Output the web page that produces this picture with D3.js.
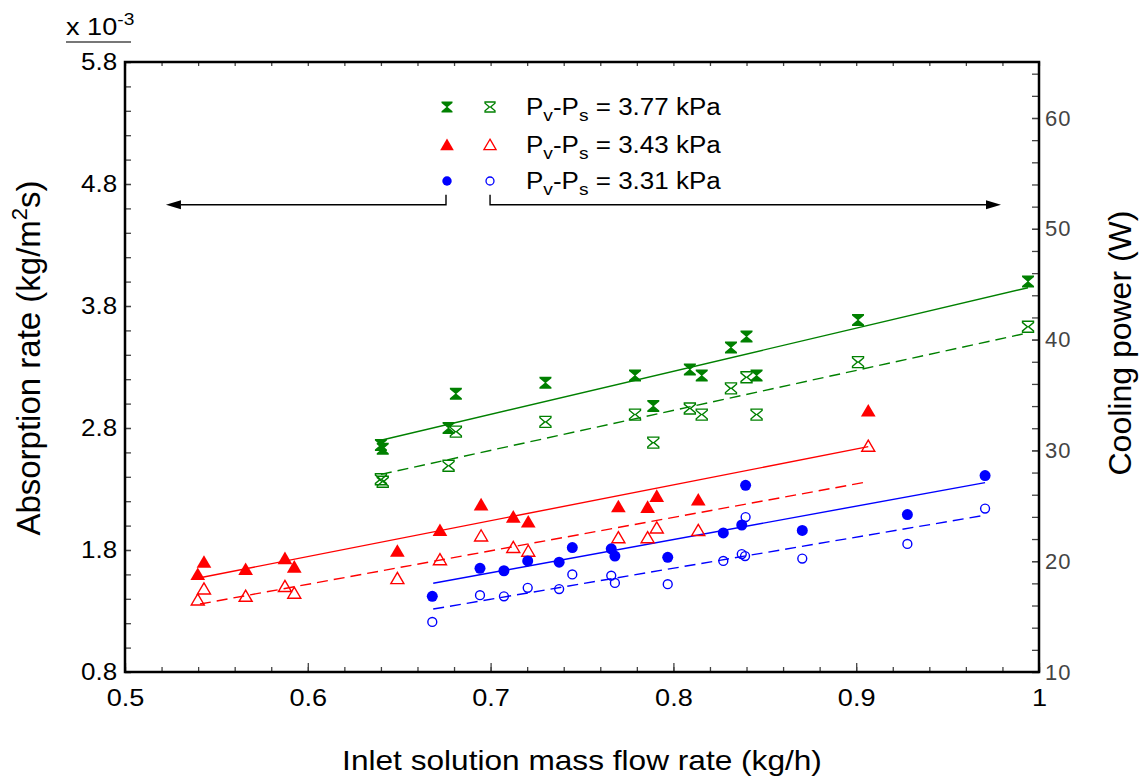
<!DOCTYPE html>
<html>
<head>
<meta charset="utf-8">
<script src="https://cdn.jsdelivr.net/npm/d3@7"></script>
<style>
  html, body { margin: 0; padding: 0; background: #fff; }
  svg { display: block; }
  text { font-family: "Liberation Sans", Arial, sans-serif; }
</style>
</head>
<body>
<div id="chart"></div>
<script>
// ---- data (absorption rate in 1e-3 kg/m2s vs inlet flow kg/h) ----
const xTicks = [0.5, 0.6, 0.7, 0.8, 0.9, 1];
const yTicks = [0.8, 1.8, 2.8, 3.8, 4.8, 5.8];
const rTicks = [10, 20, 30, 40, 50, 60];

const g377FilledX = [0.640, 0.641, 0.677, 0.681, 0.730, 0.779, 0.789, 0.809, 0.8155, 0.8315, 0.840, 0.8455, 0.901, 0.994];
const g377FilledY = [2.66, 2.63, 2.80, 3.08, 3.17, 3.23, 2.98, 3.28, 3.23, 3.46, 3.55, 3.23, 3.685, 4.00];
const g377OpenX   = [0.640, 0.641, 0.677, 0.681, 0.730, 0.779, 0.789, 0.809, 0.8155, 0.8315, 0.840, 0.8455, 0.901, 0.994];
const g377OpenY   = [2.38, 2.36, 2.49, 2.77, 2.85, 2.91, 2.68, 2.96, 2.91, 3.125, 3.216, 2.91, 3.34, 3.63];

const r343FilledX = [0.5398, 0.5432, 0.566, 0.5875, 0.5926, 0.649, 0.6723, 0.6948, 0.7124, 0.7206, 0.7699, 0.7859, 0.7909, 0.8136, 0.9066];
const r343FilledY = [1.60, 1.70, 1.64, 1.73, 1.66, 1.79, 1.96, 2.17, 2.07, 2.03, 2.155, 2.15, 2.24, 2.21, 2.94];
const r343OpenX   = [0.5398, 0.5432, 0.566, 0.5875, 0.5926, 0.649, 0.6723, 0.6948, 0.7124, 0.7206, 0.7699, 0.7859, 0.7909, 0.8136, 0.9066];
const r343OpenY   = [1.39, 1.48, 1.42, 1.50, 1.445, 1.565, 1.72, 1.915, 1.82, 1.79, 1.90, 1.90, 1.98, 1.96, 2.65];

const b331FilledX = [0.6681, 0.6942, 0.7073, 0.7203, 0.7375, 0.7447, 0.766, 0.768, 0.7969, 0.8273, 0.8374, 0.8395, 0.8705, 0.928, 0.9705];
const b331FilledY = [1.42, 1.65, 1.63, 1.71, 1.70, 1.82, 1.81, 1.75, 1.74, 1.94, 2.005, 2.33, 1.96, 2.09, 2.41];
const b331OpenX   = [0.6681, 0.6942, 0.7073, 0.7203, 0.7375, 0.7447, 0.766, 0.768, 0.7969, 0.8273, 0.8374, 0.8392, 0.8395, 0.8705, 0.928, 0.9705];
const b331OpenY   = [1.21, 1.43, 1.42, 1.49, 1.48, 1.60, 1.59, 1.53, 1.52, 1.71, 1.767, 1.75, 2.07, 1.73, 1.85, 2.14];

// fitted lines, end points
const fitG377Solid  = [[0.640, 2.70], [0.994, 3.95]];
const fitG377Dashed = [[0.640, 2.42], [0.994, 3.58]];
const fitR343Solid  = [[0.541, 1.573], [0.9066, 2.647]];
const fitR343Dashed = [[0.541, 1.357], [0.9066, 2.36]];
const fitB331Solid  = [[0.6686, 1.527], [0.9705, 2.352]];
const fitB331Dashed = [[0.6686, 1.316], [0.9705, 2.085]];

const legendLabels = ['3.77', '3.43', '3.31'];

// arrows: y level and x extents, data units
const arrowY = 4.63;
const arrowLeft = [0.5224, 0.6756];
const arrowRight = [0.6997, 0.9792];

const GREEN = '#008000', RED = '#ff0000', BLUE = '#0000ff';
const STRETCH = 1.13;   // text in the original is a bit wide

const W = 1146, H = 778;
const M = { left: 125, right: 1039, top: 62, bottom: 672 };

const svg = d3.select('#chart').append('svg')
  .attr('width', W).attr('height', H);

const x  = d3.scaleLinear([0.5, 1], [M.left, M.right]);
const y  = d3.scaleLinear([0.8, 5.8], [M.bottom, M.top]);
const yR = d3.scaleLinear([10, 10 + (M.bottom - M.top) / 11.08], [M.bottom, M.top]);

// ---- axes ----
const minorX = d3.range(0.5, 1.0001, 0.02).map(v => +v.toFixed(2));
const minorY = d3.range(0.8, 5.8001, 0.2).map(v => +v.toFixed(1));
const minorR = d3.range(10, 65, 2);

function styleTicks(g) {
  g.select('.domain').remove();
  g.selectAll('line').attr('stroke', '#444').attr('stroke-width', 1.3);
}

svg.append('g').attr('transform', `translate(0,${M.bottom})`)
  .call(d3.axisBottom(x).tickValues(minorX).tickSize(-5).tickFormat(''))
  .call(styleTicks);
svg.append('g').attr('transform', `translate(0,${M.bottom})`)
  .call(d3.axisBottom(x).tickValues(xTicks).tickSize(-9).tickPadding(17).tickFormat(d3.format('')))
  .call(styleTicks)
  .call(g => g.selectAll('text').attr('font-size', 24).attr('fill', '#000')
    .attr('transform', `scale(${STRETCH},1)`)
    .attr('font-family', '"Liberation Sans", Arial, sans-serif'));

svg.append('g').attr('transform', `translate(0,${M.top})`)
  .call(d3.axisTop(x).tickValues(minorX).tickSize(-4).tickFormat(''))
  .call(styleTicks);

svg.append('g').attr('transform', `translate(${M.left},0)`)
  .call(d3.axisLeft(y).tickValues(minorY).tickSize(-6).tickFormat(''))
  .call(styleTicks);
svg.append('g').attr('transform', `translate(${M.left},0)`)
  .call(d3.axisLeft(y).tickValues(yTicks).tickSize(-6).tickPadding(7).tickFormat(d3.format('.1f')))
  .call(styleTicks)
  .call(g => g.selectAll('text').attr('font-size', 23).attr('fill', '#000')
    .attr('transform', `scale(${STRETCH},1)`)
    .attr('font-family', '"Liberation Sans", Arial, sans-serif'));

svg.append('g').attr('transform', `translate(${M.right},0)`)
  .call(d3.axisRight(yR).tickValues(minorR).tickSize(-7).tickFormat(''))
  .call(styleTicks);
svg.append('g').attr('transform', `translate(${M.right},0)`)
  .call(d3.axisRight(yR).tickValues(rTicks).tickSize(-7).tickPadding(6).tickFormat(d3.format('d')))
  .call(styleTicks)
  .call(g => g.selectAll('text').attr('font-size', 22).attr('fill', '#444')
    .attr('letter-spacing', 1)
    .attr('font-family', '"DejaVu Sans Mono", monospace'));

// frame
svg.append('rect')
  .attr('x', M.left).attr('y', M.top)
  .attr('width', M.right - M.left).attr('height', M.bottom - M.top)
  .attr('fill', 'none').attr('stroke', '#000').attr('stroke-width', 2.5);

// ---- multiplier ----
const mult = svg.append('text')
  .attr('transform', `translate(66,35) scale(${STRETCH},1)`).attr('font-size', 24);
mult.append('tspan').text('x 10');
mult.append('tspan').attr('dy', -10).attr('font-size', 17).text('-3');
svg.append('line').attr('x1', 66).attr('x2', 131).attr('y1', 42).attr('y2', 42)
  .attr('stroke', '#777').attr('stroke-width', 2);

// ---- axis titles ----
svg.append('text')
  .attr('transform', `translate(${(M.left + M.right) / 2},770) scale(${STRETCH},1)`)
  .attr('text-anchor', 'middle').attr('font-size', 28)
  .text('Inlet solution mass flow rate (kg/h)');

const yl = svg.append('text')
  .attr('transform', `translate(40,358) rotate(-90)`)
  .attr('text-anchor', 'middle').attr('font-size', 33);
yl.append('tspan').text('Absorption rate (kg/m');
yl.append('tspan').attr('dy', -13).attr('font-size', 22).text('2');
yl.append('tspan').attr('dy', 13).text('s)');

svg.append('text')
  .attr('transform', `translate(1131,343) rotate(-90)`)
  .attr('text-anchor', 'middle').attr('font-size', 32)
  .text('Cooling power (W)');

// ---- markers ----
function hourglass(s) {
  const w = s, h = s, b = s * 0.25;
  return `M${-w},${-h}H${w}V${-h + b}L0.6,0L${w},${h - b}V${h}H${-w}V${h - b}L-0.6,0L${-w},${-h + b}Z`;
}
function triangle(s) {
  return `M0,${-s}L${s * 1.05},${s * 0.8}H${-s * 1.05}Z`;
}

function drawPoints(xs, ys, kind, color, filled) {
  const pts = xs.map((v, i) => [v, ys[i]]);
  const g = svg.append('g');
  const sel = g.selectAll('path').data(pts).join('path')
    .attr('transform', d => `translate(${x(d[0])},${y(d[1])})`);
  if (kind === 'circle') {
    sel.attr('d', filled ? d3.symbol(d3.symbolCircle, 95)() : d3.symbol(d3.symbolCircle, 62)());
  } else if (kind === 'tri') {
    sel.attr('d', filled ? triangle(7) : triangle(6.2));
  } else {
    sel.attr('d', hourglass(filled ? 6 : 5.5));
  }
  if (filled) sel.attr('fill', color).attr('stroke', 'none');
  else sel.attr('fill', 'none').attr('stroke', color).attr('stroke-width', 1.4);
}

function drawFit(pts, color, dashed) {
  svg.append('path')
    .datum(pts)
    .attr('d', d3.line().x(d => x(d[0])).y(d => y(d[1])))
    .attr('fill', 'none').attr('stroke', color).attr('stroke-width', 1.4)
    .attr('stroke-dasharray', dashed ? '11,6' : null);
}

drawFit(fitG377Solid, GREEN, false);
drawFit(fitG377Dashed, GREEN, true);
drawFit(fitR343Solid, RED, false);
drawFit(fitR343Dashed, RED, true);
drawFit(fitB331Solid, BLUE, false);
drawFit(fitB331Dashed, BLUE, true);

drawPoints(g377OpenX, g377OpenY, 'hg', GREEN, false);
drawPoints(g377FilledX, g377FilledY, 'hg', GREEN, true);
drawPoints(r343OpenX, r343OpenY, 'tri', RED, false);
drawPoints(r343FilledX, r343FilledY, 'tri', RED, true);
drawPoints(b331OpenX, b331OpenY, 'circle', BLUE, false);
drawPoints(b331FilledX, b331FilledY, 'circle', BLUE, true);

// ---- legend ----
const legRows = [
  { kind: 'hg', color: GREEN, y: 107 },
  { kind: 'tri', color: RED, y: 145 },
  { kind: 'circle', color: BLUE, y: 181 }
];
legRows.forEach((r, i) => {
  [[447, true], [490, false]].forEach(([lx, filled]) => {
    const p = svg.append('path').attr('transform', `translate(${lx},${r.y})`);
    if (r.kind === 'circle') p.attr('d', d3.symbol(d3.symbolCircle, filled ? 70 : 50)());
    else if (r.kind === 'tri') p.attr('d', triangle(filled ? 6.5 : 5.8));
    else p.attr('d', hourglass(filled ? 5.5 : 5));
    if (filled) p.attr('fill', r.color);
    else p.attr('fill', 'none').attr('stroke', r.color).attr('stroke-width', 1.3);
  });
  const t = svg.append('text')
    .attr('transform', `translate(526,${r.y + 8}) scale(${STRETCH},1)`).attr('font-size', 23);
  t.append('tspan').text('P');
  t.append('tspan').attr('dy', 6).attr('font-size', 17).text('v');
  t.append('tspan').attr('dy', -6).text('-P');
  t.append('tspan').attr('dy', 6).attr('font-size', 17).text('s');
  t.append('tspan').attr('dy', -6).text(` = ${legendLabels[i]} kPa`);
});

// ---- arrows ----
const ay = y(arrowY);
const arrowLen = 15, arrowHalf = 4.5;
svg.append('path')
  .attr('d', `M${x(arrowLeft[1])},${ay - 10}V${ay}H${x(arrowLeft[0]) + arrowLen}`)
  .attr('fill', 'none').attr('stroke', '#000').attr('stroke-width', 1.4);
svg.append('path')
  .attr('d', `M${x(arrowLeft[0])},${ay}l${arrowLen},${-arrowHalf}v${arrowHalf * 2}Z`)
  .attr('fill', '#000');
svg.append('path')
  .attr('d', `M${x(arrowRight[0])},${ay - 10}V${ay}H${x(arrowRight[1]) - arrowLen}`)
  .attr('fill', 'none').attr('stroke', '#000').attr('stroke-width', 1.4);
svg.append('path')
  .attr('d', `M${x(arrowRight[1])},${ay}l${-arrowLen},${-arrowHalf}v${arrowHalf * 2}Z`)
  .attr('fill', '#000');
</script>
</body>
</html>
